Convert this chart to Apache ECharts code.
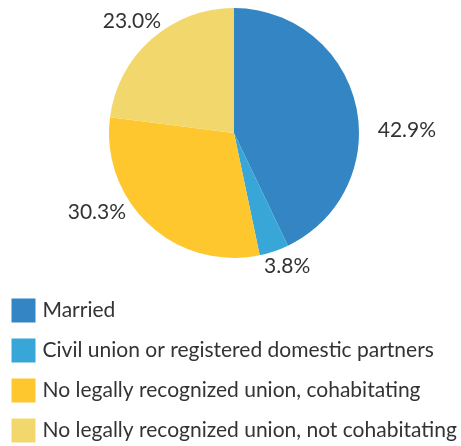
<!DOCTYPE html>
<html><head><meta charset="utf-8">
<script src="https://cdn.jsdelivr.net/npm/echarts@6/dist/echarts.min.js"></script>
<style>html,body{margin:0;padding:0;background:#fff}#c{width:461px;height:446px}</style>
</head><body><div id="c"></div>
<script>
const categories = ["Married","Civil union or registered domestic partners","No legally recognized union, cohabitating","No legally recognized union, not cohabitating"];
const values = [42.9, 3.8, 30.3, 23.0];
const colors = ["#3385c3","#38a7d8","#fec72d","#f2d86c"];
const labelOffsets = [[9,26.5],[-17.6,7],[-12.8,-18.8],[20,-12]];
const chart = echarts.init(document.getElementById('c'));
chart.setOption({
  animation:false,
  legend:{orient:'vertical',left:11.5,top:298,padding:0,itemWidth:24,itemHeight:24,itemGap:15,icon:'rect',
    textStyle:{fontFamily:'Lato',fontSize:21,lineHeight:21,padding:[4,0,0,2],color:'#333'},data:categories},
  series:[{type:'pie',center:[234,133],radius:125,startAngle:90,clockwise:true,avoidLabelOverlap:false,
    label:{show:true,position:'outside',formatter:p=>p.value.toFixed(1)+'%',fontFamily:'Lato',fontSize:21,color:'#333'},
    labelLine:{show:false,length:8,length2:0},
    itemStyle:{borderWidth:0},
    data:categories.map((n,i)=>({name:n,value:values[i],itemStyle:{color:colors[i]},label:{offset:labelOffsets[i]}}))}]
});
</script></body></html>
